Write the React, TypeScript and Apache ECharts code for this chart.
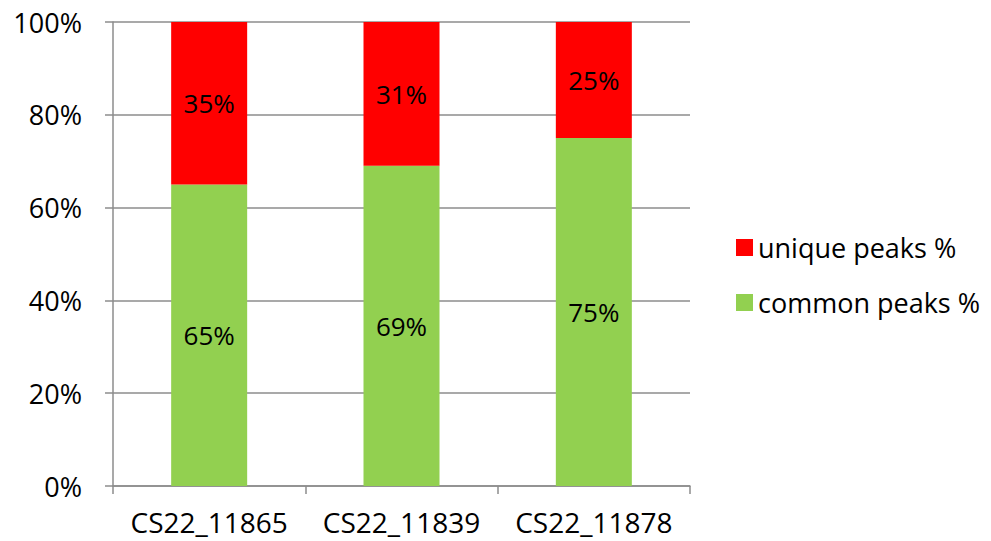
import React, { useEffect, useRef } from "react";
import * as echarts from "echarts";

const categories = ["CS22_11865", "CS22_11839", "CS22_11878"];
const commonPeaks = [65, 69, 75];
const uniquePeaks = [35, 31, 25];
const yTicks = [0, 20, 40, 60, 80, 100];

const FONT = "'Open Sans', 'Liberation Sans', sans-serif";
const AXIS_GRAY = "#8c8c8c";

export default function App() {
  const ref = useRef<HTMLDivElement>(null);

  useEffect(() => {
    if (!ref.current) return;
    const chart = echarts.init(ref.current, undefined, { renderer: "svg" });
    const labelStyle = {
      show: true,
      position: "inside" as const,
      color: "#000",
      fontFamily: FONT,
      fontSize: 26,
      formatter: (p: any) => `${p.value}%`,
    };
    chart.setOption({
      animation: false,
      backgroundColor: "#fff",
      grid: { left: 113, right: 301, top: 22, bottom: 55, containLabel: false },
      legend: {
        orient: "vertical",
        left: 731,
        top: 229,
        itemWidth: 17,
        itemHeight: 17,
        itemGap: 28,
        icon: "rect",
        data: ["unique peaks %", "common peaks %"],
        textStyle: { fontFamily: FONT, fontSize: 27, color: "#000" },
      },
      xAxis: {
        type: "category",
        data: categories,
        axisLine: { lineStyle: { color: AXIS_GRAY, width: 1.5 } },
        axisTick: { show: true, length: 8, alignWithLabel: false, lineStyle: { color: AXIS_GRAY, width: 1.5 } },
        axisLabel: { interval: 0, fontFamily: FONT, fontSize: 28, color: "#000", margin: 22 },
      },
      yAxis: {
        type: "value",
        min: yTicks[0],
        max: yTicks[yTicks.length - 1],
        interval: 20,
        axisLine: { show: true, lineStyle: { color: AXIS_GRAY, width: 1.5 } },
        axisTick: { show: true, length: 8, lineStyle: { color: AXIS_GRAY, width: 1.5 } },
        splitLine: { show: true, lineStyle: { color: AXIS_GRAY, width: 1.5 } },
        axisLabel: {
          fontFamily: FONT,
          fontSize: 27,
          color: "#000",
          margin: 31,
          formatter: (v: number) => `${v}%`,
        },
      },
      series: [
        {
          name: "common peaks %",
          type: "bar",
          stack: "total",
          barWidth: 76,
          data: commonPeaks,
          itemStyle: { color: "#92d050" },
          label: labelStyle,
        },
        {
          name: "unique peaks %",
          type: "bar",
          stack: "total",
          barWidth: 76,
          data: uniquePeaks,
          itemStyle: { color: "#ff0000" },
          label: labelStyle,
        },
      ],
    });
    return () => chart.dispose();
  }, []);

  return (
    <div
      ref={ref}
      style={{ position: "fixed", left: 0, top: 0, width: 991, height: 541 }}
    />
  );
}
